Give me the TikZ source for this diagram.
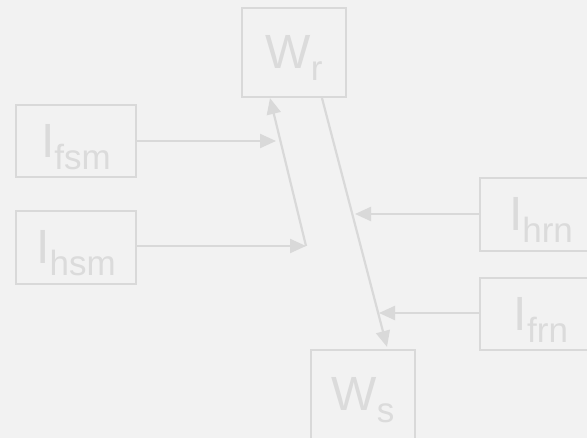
\documentclass[tikz,border=0pt]{standalone}
\usepackage{fontspec}
\setmainfont{Liberation Sans}
\usetikzlibrary{arrows.meta}
\definecolor{bg}{HTML}{F2F2F2}
\definecolor{ln}{HTML}{D9D9D9}
\definecolor{tx}{HTML}{DBDBDB}
\newcommand{\lbl}[2]{{\fontsize{48}{48}\selectfont\rule{0pt}{44.5pt}#1\raisebox{-12pt}{\fontsize{35}{35}\selectfont #2}}}
\tikzset{
  box/.style={draw=ln, line width=2.2pt, text=tx, inner sep=0pt, minimum width=#1},
  box/.default=104pt,
  conn/.style={draw=ln, line width=2.2pt, -{Triangle[length=16pt,width=14pt]}}
}
\begin{document}
\begin{tikzpicture}[x=1pt,y=-1pt]
\fill[bg] (0,0) rectangle (587,438);
\useasboundingbox (0,0) rectangle (587,438);
\clip (0,0) rectangle (587,438);
\node[box=104pt, minimum height=89pt] (wr) at (294,52.5) {\lbl{W}{r}};
\node[box=120pt, minimum height=72pt] (ifsm) at (76,141) {\lbl{I}{fsm}};
\node[box=120pt, minimum height=73pt] (ihsm) at (76,247.5) {\lbl{I}{hsm}};
\node[box=122pt, minimum height=73pt] (ihrn) at (541,214.5) {\lbl{I}{hrn}};
\node[box=122pt, minimum height=72pt] (ifrn) at (541,314) {\lbl{I}{frn}};
\node[box=104pt, minimum height=89pt] (ws) at (363,394.5) {\lbl{W}{s}};
\coordinate (j1) at (306,246);
\coordinate (t1) at (276,141);
\coordinate (t2) at (355,214);
\coordinate (t3) at (379,313);
\draw[conn] (ifsm.east) -- (t1);
\draw[conn] (ihsm.east |- j1) -- (j1);
\draw[conn] (j1) -- ([xshift=-24pt]wr.south);
\draw[conn] ([xshift=28pt]wr.south) -- ([xshift=24pt,yshift=2pt]ws.north);
\draw[conn] (ihrn.west |- t2) -- (t2);
\draw[conn] (ifrn.west |- t3) -- (t3);
\end{tikzpicture}
\end{document}
